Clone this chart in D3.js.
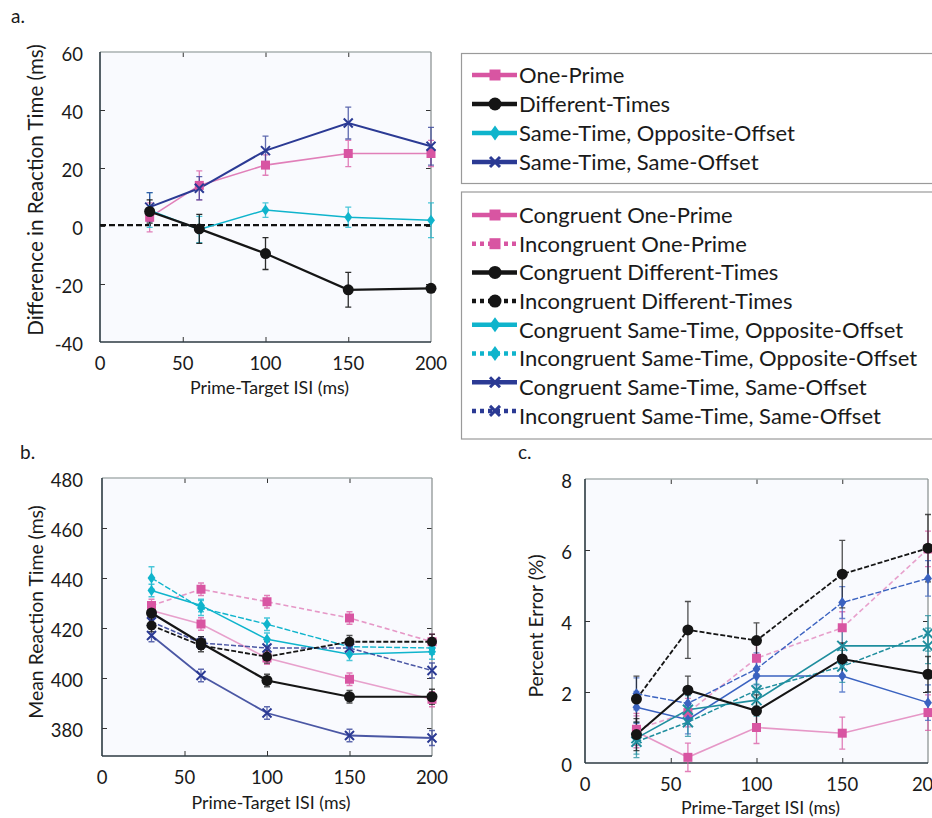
<!DOCTYPE html>
<html><head><meta charset="utf-8">
<script src="https://cdn.jsdelivr.net/npm/d3@7/dist/d3.min.js"></script>
<style>
body{margin:0;background:#fff;}
svg{display:block;font-family:Lato,"Open Sans",sans-serif;}
</style></head>
<body><svg id="chart" width="932" height="818"></svg>
<script>
// ---------- DATA ----------
const isi = [30, 60, 100, 150, 200];
const xTicks = [0, 50, 100, 150, 200];

// Panel a: difference in RT (ms)
const aYTicks = [-40, -20, 0, 20, 40, 60];
const aOnePrime = [3, 14, 21, 25, 25];
const aOnePrimeErr = [5, 5, 3.5, 4.5, 4.5];
const aDiffTimes = [5, -1, -9.5, -22, -21.5];
const aDiffTimesErr = [4, 5, 5.5, 6, 1];
const aOppOffset = [5.5, -1.2, 5.5, 3, 2];
const aOppOffsetErr = [6, 4.5, 2.5, 3.5, 6];
const aSameOffset = [6.5, 13, 26, 35.5, 27.5];
const aSameOffsetErr = [5, 4, 5, 5.5, 6.5];

// Panel b: mean RT (ms)
const bYTicks = [380, 400, 420, 440, 460, 480];
const bCongOnePrime = [427, 421.6, 408, 399.5, 391.5];
const bIncOnePrime = [429, 435.5, 430.5, 424, 414.5];
const bCongDiffTimes = [426, 414, 399, 392.5, 392.5];
const bIncDiffTimes = [421, 413, 408.5, 414.5, 414.5];
const bCongOppOffset = [435, 429, 415.5, 409.5, 410.5];
const bIncOppOffset = [440, 428, 421.5, 412.5, 412];
const bCongSameOffset = [417, 401, 386, 377, 376];
const bIncSameOffset = [422.5, 414, 412, 412, 403];
const bErr = [2.5, 2.5, 2.5, 2.5, 3];
const bErrOppInc = [4.5, 3, 2.5, 2.5, 2.5];

// Panel c: percent error (%)
const cYTicks = [0, 2, 4, 6, 8];
const cCongOnePrime = [0.88, 0.16, 1.0, 0.84, 1.42];
const cIncOnePrime = [0.95, 1.42, 2.95, 3.81, 6.03];
const cCongDiffTimes = [0.8, 2.05, 1.47, 2.93, 2.5];
const cIncDiffTimes = [1.8, 3.75, 3.45, 5.32, 6.05];
const cCongOppOffset = [1.57, 1.22, 2.45, 2.45, 1.7];
const cIncOppOffset = [1.95, 1.68, 2.65, 4.52, 5.2];
const cCongSameOffset = [0.7, 1.5, 1.77, 3.3, 3.3];
const cIncSameOffset = [0.6, 1.15, 2.05, 2.72, 3.65];
const cErrIncDiffTimes = [0.65, 0.8, 0.5, 0.95, 0.95];
const cErr = [0.45, 0.4, 0.45, 0.45, 0.5];

const legend1 = ["One-Prime", "Different-Times", "Same-Time, Opposite-Offset", "Same-Time, Same-Offset"];
const legend2 = ["Congruent One-Prime", "Incongruent One-Prime", "Congruent Different-Times",
  "Incongruent Different-Times", "Congruent Same-Time, Opposite-Offset",
  "Incongruent Same-Time, Opposite-Offset", "Congruent Same-Time, Same-Offset",
  "Incongruent Same-Time, Same-Offset"];

// ---------- STYLE ----------
const PINK = "#d855a2", BLACK = "#151515", CYAN = "#0fb4cc", NAVY = "#2b3a94";
const BLUE_C = "#3a62c0", TEAL_C = "#1f8e9e";
const svg = d3.select("#chart");

function markerPath(type, s) {
  if (type === "square") return d3.symbol(d3.symbolSquare, s * s)();
  if (type === "circle") return d3.symbol(d3.symbolCircle, Math.PI * (s / 2) * (s / 2))();
  if (type === "diamond") { const h = s / 2, w = s * 0.36; return `M0,${-h}L${w},0L0,${h}L${-w},0Z`; }
  if (type === "x") { const h = s / 2; return `M${-h},${-h}L${h},${h}M${-h},${h}L${h},${-h}`; }
}
function drawMarker(g, type, color, x, y, s) {
  const p = g.append("path").attr("d", markerPath(type, s)).attr("transform", `translate(${x},${y})`);
  if (type === "x") p.attr("fill", "none").attr("stroke", color).attr("stroke-width", 2);
  else p.attr("fill", color).attr("stroke", "none");
}

function panel(cfg) {
  const x = d3.scaleLinear().domain([0, 200]).range([cfg.left, cfg.right]);
  const y = d3.scaleLinear().domain(cfg.yDomain).range([cfg.bottom, cfg.top]);
  const g = svg.append("g");
  g.append("rect").attr("x", cfg.left).attr("y", cfg.top).attr("width", cfg.right - cfg.left)
    .attr("height", cfg.bottom - cfg.top).attr("fill", "#f9fafe");
  const tl = 5;
  g.append("g").attr("transform", `translate(0,${cfg.bottom})`)
    .call(d3.axisTop(x).tickValues(xTicks.slice(1, -1)).tickSize(tl).tickFormat(""))
    .call(s => s.select(".domain").remove()).selectAll("line").attr("stroke", "#333");
  g.append("g").attr("transform", `translate(0,${cfg.top})`)
    .call(d3.axisBottom(x).tickValues(xTicks.slice(1, -1)).tickSize(tl).tickFormat(""))
    .call(s => s.select(".domain").remove()).selectAll("line").attr("stroke", "#333");
  const yInner = cfg.yTicks.filter(v => y(v) > cfg.top + 1 && y(v) < cfg.bottom - 1);
  g.append("g").attr("transform", `translate(${cfg.left},0)`)
    .call(d3.axisRight(y).tickValues(yInner).tickSize(tl).tickFormat(""))
    .call(s => s.select(".domain").remove()).selectAll("line").attr("stroke", "#333");
  g.append("g").attr("transform", `translate(${cfg.right},0)`)
    .call(d3.axisLeft(y).tickValues(yInner).tickSize(tl).tickFormat(""))
    .call(s => s.select(".domain").remove()).selectAll("line").attr("stroke", "#333");
  g.append("line").attr("x1", cfg.left).attr("x2", cfg.right).attr("y1", cfg.top).attr("y2", cfg.top)
    .attr("stroke", "#a9b0b0").attr("stroke-width", 1.3);
  g.append("line").attr("x1", cfg.right).attr("x2", cfg.right).attr("y1", cfg.top).attr("y2", cfg.bottom)
    .attr("stroke", "#8f9595").attr("stroke-width", 1.3);
  g.append("line").attr("x1", cfg.left).attr("x2", cfg.left).attr("y1", cfg.top).attr("y2", cfg.bottom)
    .attr("stroke", "#2c3a42").attr("stroke-width", 1.6);
  g.append("line").attr("x1", cfg.left).attr("x2", cfg.right).attr("y1", cfg.bottom).attr("y2", cfg.bottom)
    .attr("stroke", "#2c3a42").attr("stroke-width", 1.6);
  g.selectAll(".xl").data(xTicks).enter().append("text")
    .attr("x", d => x(d)).attr("y", cfg.bottom + 22).attr("dy", "0.35em")
    .attr("text-anchor", "middle").attr("font-size", 18.5).attr("fill", "#1a1a1a").text(d => d);
  g.selectAll(".yl").data(cfg.yTicks).enter().append("text")
    .attr("x", cfg.labelX).attr("y", d => y(d) + 3).attr("dy", "0.35em")
    .attr("text-anchor", "end").attr("font-size", 18.5).attr("fill", "#1a1a1a").text(d => d);
  g.append("text").attr("x", (cfg.left + cfg.right) / 2 + cfg.xTitleDx).attr("y", cfg.xTitleY)
    .attr("text-anchor", "middle").attr("font-size", 17.8).attr("fill", "#1a1a1a").text("Prime-Target ISI (ms)");
  g.append("text").attr("transform", `translate(${cfg.yTitleX},${cfg.yTitleY}) rotate(-90)`)
    .attr("text-anchor", "middle").attr("font-size", cfg.yTitleSize).attr("fill", "#1a1a1a").text(cfg.yTitle);
  g.append("text").attr("x", cfg.tagX).attr("y", cfg.tagY).attr("font-size", 19).attr("fill", "#1a1a1a").text(cfg.tag);

  if (cfg.zeroLine) {
    g.append("line").attr("x1", cfg.left).attr("x2", cfg.right).attr("y1", y(0.3)).attr("y2", y(0.3))
      .attr("stroke", "#111").attr("stroke-width", 2.2).attr("stroke-dasharray", "6,3");
  }
  const line = d3.line().x((d, i) => x(isi[i])).y(d => y(d));
  const sg = g.append("g");
  cfg.series.forEach(s => {
    s.values.forEach((v, i) => {
      const e = s.err[i], cx = x(isi[i]);
      sg.append("path").attr("d", `M${cx},${y(v - e)}V${y(v + e)}M${cx - 3},${y(v - e)}H${cx + 3}M${cx - 3},${y(v + e)}H${cx + 3}`)
        .attr("stroke", s.color).attr("stroke-width", 1.3).attr("fill", "none").attr("opacity", s.errOpacity || 0.75);
    });
  });
  cfg.series.forEach(s => {
    sg.append("path").attr("d", line(s.values)).attr("fill", "none").attr("stroke", s.color)
      .attr("stroke-width", s.width || 1.6).attr("opacity", s.opacity || 1)
      .attr("stroke-dasharray", s.dash || null);
  });
  cfg.series.forEach(s => {
    s.values.forEach((v, i) => drawMarker(sg, s.marker, s.color, x(isi[i]), y(v), s.msize || 9));
  });
}

panel({
  left: 100, right: 431, top: 52, bottom: 342, yDomain: [-40, 60], yTicks: aYTicks, labelX: 83,
  xTitleY: 394, xTitleDx: 4, yTitleX: 43, yTitleY: 190, yTitleSize: 20.6, yTitle: "Difference in Reaction Time (ms)",
  tag: "a.", tagX: 11, tagY: 23, zeroLine: true,
  series: [
    { values: aOnePrime, err: aOnePrimeErr, color: PINK, marker: "square", opacity: 0.75, msize: 9 },
    { values: aOppOffset, err: aOppOffsetErr, color: CYAN, marker: "diamond", width: 1.4, msize: 11 },
    { values: aSameOffset, err: aSameOffsetErr, color: NAVY, marker: "x", width: 2, msize: 9 },
    { values: aDiffTimes, err: aDiffTimesErr, color: BLACK, marker: "circle", width: 2.2, msize: 11, errOpacity: 0.9 }
  ]
});

panel({
  left: 102, right: 432, top: 478, bottom: 756, yDomain: [368.8, 480], yTicks: bYTicks, labelX: 83,
  xTitleY: 809, xTitleDx: 4, yTitleX: 43, yTitleY: 612, yTitleSize: 19.4, yTitle: "Mean Reaction Time (ms)",
  tag: "b.", tagX: 20, tagY: 459,
  series: [
    { values: bIncOnePrime, err: bErr, color: PINK, marker: "square", dash: "5,3", opacity: 0.6, msize: 9 },
    { values: bCongOnePrime, err: bErr, color: PINK, marker: "square", opacity: 0.55, msize: 9 },
    { values: bIncOppOffset, err: bErrOppInc, color: CYAN, marker: "diamond", dash: "6,2", width: 1.4, msize: 11 },
    { values: bCongOppOffset, err: bErr, color: CYAN, marker: "diamond", width: 1.4, msize: 11 },
    { values: bIncSameOffset, err: bErr, color: NAVY, marker: "x", dash: "5,2", width: 1.5, msize: 9, opacity: 0.85 },
    { values: bCongSameOffset, err: bErr, color: NAVY, marker: "x", width: 1.8, msize: 9, opacity: 0.85 },
    { values: bIncDiffTimes, err: bErr, color: BLACK, marker: "circle", dash: "5,2", width: 1.8, msize: 10 },
    { values: bCongDiffTimes, err: bErr, color: BLACK, marker: "circle", width: 2.2, msize: 11 }
  ]
});

panel({
  left: 585, right: 928, top: 479, bottom: 763, yDomain: [0, 8], yTicks: cYTicks, labelX: 572,
  xTitleY: 814, xTitleDx: 4, yTitleX: 543, yTitleY: 626, yTitleSize: 19.4, yTitle: "Percent Error (%)",
  tag: "c.", tagX: 518, tagY: 459,
  series: [
    { values: cCongOnePrime, err: cErr, color: PINK, marker: "square", opacity: 0.6, msize: 9 },
    { values: cIncOnePrime, err: cErr, color: PINK, marker: "square", dash: "5,3", opacity: 0.55, msize: 9 },
    { values: cCongOppOffset, err: cErr, color: BLUE_C, marker: "diamond", width: 1.5, msize: 11 },
    { values: cIncOppOffset, err: cErr, color: BLUE_C, marker: "diamond", dash: "6,2", width: 1.4, msize: 11 },
    { values: cCongSameOffset, err: cErr, color: TEAL_C, marker: "x", width: 1.6, msize: 10 },
    { values: cIncSameOffset, err: cErr, color: TEAL_C, marker: "x", dash: "5,2", width: 1.5, msize: 10 },
    { values: cCongDiffTimes, err: cErr, color: BLACK, marker: "circle", width: 2, msize: 11 },
    { values: cIncDiffTimes, err: cErrIncDiffTimes, color: BLACK, marker: "circle", dash: "5,2", width: 1.8, msize: 11 }
  ]
});

// ---------- LEGENDS ----------
const l1Styles = [
  { color: PINK, marker: "square", dash: null },
  { color: BLACK, marker: "circle", dash: null },
  { color: CYAN, marker: "diamond", dash: null },
  { color: NAVY, marker: "x", dash: null }
];
const l2Styles = [
  { color: PINK, marker: "square", dash: null },
  { color: PINK, marker: "square", dash: "4,4" },
  { color: BLACK, marker: "circle", dash: null },
  { color: BLACK, marker: "circle", dash: "4,4" },
  { color: CYAN, marker: "diamond", dash: null },
  { color: CYAN, marker: "diamond", dash: "4,4" },
  { color: NAVY, marker: "x", dash: null },
  { color: NAVY, marker: "x", dash: "4,4" }
];
function legend(labels, styles, boxY, boxH, firstY, step, lineShift) {
  const g = svg.append("g");
  g.append("rect").attr("x", 461.5).attr("y", boxY).attr("width", 500).attr("height", boxH)
    .attr("fill", "#fff").attr("stroke", "#9a9a9a").attr("stroke-width", 1.2);
  labels.forEach((lab, i) => {
    const cy = firstY + i * step;
    const st = styles[i];
    const ly = cy + lineShift(i);
    g.append("line").attr("x1", 472).attr("x2", 517).attr("y1", ly).attr("y2", ly)
      .attr("stroke", st.color).attr("stroke-width", 4.5).attr("stroke-dasharray", st.dash);
    const ms = st.marker === "circle" ? 13 : st.marker === "diamond" ? 15 : st.marker === "x" ? 10 : 11;
    const mg = g.append("g");
    drawMarker(mg, st.marker, st.color, 495, ly, ms);
    if (st.marker === "x") mg.selectAll("path").attr("stroke-width", 3);
    g.append("text").attr("x", 519).attr("y", cy).attr("dy", "0.36em").attr("font-size", 22)
      .attr("fill", "#1a1a1a").text(lab);
  });
}
legend(legend1, l1Styles, 53.5, 130, 75, 29, () => 0);
legend(legend2, l2Styles, 192, 247, 215, 28.7, i => (i >= 4 ? -5 : 0));
</script></body></html>
